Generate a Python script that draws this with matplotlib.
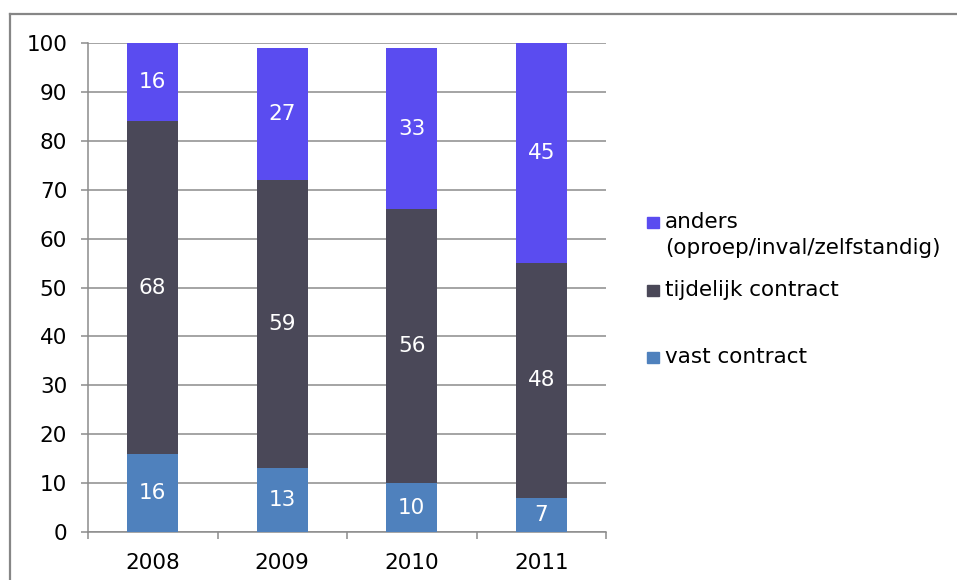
import matplotlib
matplotlib.use("Agg")
import matplotlib.pyplot as plt
import numpy as np
from matplotlib.lines import Line2D
from matplotlib.patches import Rectangle

years = ["2008", "2009", "2010", "2011"]
vast = [16, 13, 10, 7]
tijdelijk = [68, 59, 56, 48]
anders = [16, 27, 33, 45]

labels = ["vast contract", "tijdelijk contract", "anders\n(oproep/inval/zelfstandig)"]
colors = ["#4f81bd", "#4a4858", "#5a4cf0"]
grid_color = "#8c8c8c"
fs = 15.5

plt.rcParams['font.family'] = ['DejaVu Sans']

fig = plt.figure(figsize=(9.57, 5.80), dpi=100)
ax = fig.add_axes([88 / 957, 1 - 532 / 580, (606 - 88) / 957, (532 - 43) / 580])

x = np.arange(len(years))
series = [vast, tijdelijk, anders]
bottom = np.zeros(len(years))
for vals, col in zip(series, colors):
    vals = np.array(vals)
    ax.bar(x, vals, width=0.39, bottom=bottom, color=col, zorder=3)
    for xi, b, v in zip(x, bottom, vals):
        ax.text(xi, b + v / 2, str(v), color="white", ha="center", va="center",
                fontsize=fs, zorder=4)
    bottom = bottom + vals

ax.set_xlim(-0.5, len(years) - 0.5)
ax.set_ylim(0, 100)
ax.set_yticks(np.arange(0, 101, 10))
ax.yaxis.grid(True, color=grid_color, linewidth=1.1, zorder=0)
ax.set_xticks(x)
ax.set_xticklabels(years)
ax.set_xticks(np.arange(len(years) + 1) - 0.5, minor=True)
ax.tick_params(axis="x", which="major", length=0, pad=15, labelsize=fs)
ax.tick_params(axis="x", which="minor", length=5, width=1.1, color=grid_color, direction="out")
ax.tick_params(axis="y", length=5, width=1.1, color=grid_color, pad=10, labelsize=fs)

for s in ["top", "right"]:
    ax.spines[s].set_visible(False)
for s in ["left", "bottom"]:
    ax.spines[s].set_color(grid_color)
    ax.spines[s].set_linewidth(1.1)

# legend, drawn by hand to keep the uneven spacing
leg_y = [357, 290, 222]
for lab, col, yy in zip(labels, colors, leg_y):
    fig.patches.append(Rectangle((647 / 957, 1 - (yy + 6) / 580), 12 / 957, 11 / 580,
                                 transform=fig.transFigure, color=col))
    fig.text(665 / 957, 1 - (yy - 10) / 580, lab, fontsize=fs, va="top", ha="left",
             linespacing=1.38)

# outer frame (top and left only, the rest falls off the picture)
fig.lines.append(Line2D([10 / 957, 1], [1 - 14 / 580, 1 - 14 / 580], transform=fig.transFigure,
                        color="#868686", linewidth=1.6))
fig.lines.append(Line2D([10 / 957, 10 / 957], [0, 1 - 14 / 580], transform=fig.transFigure,
                        color="#868686", linewidth=1.6))

fig.savefig("out.png", dpi=100)
